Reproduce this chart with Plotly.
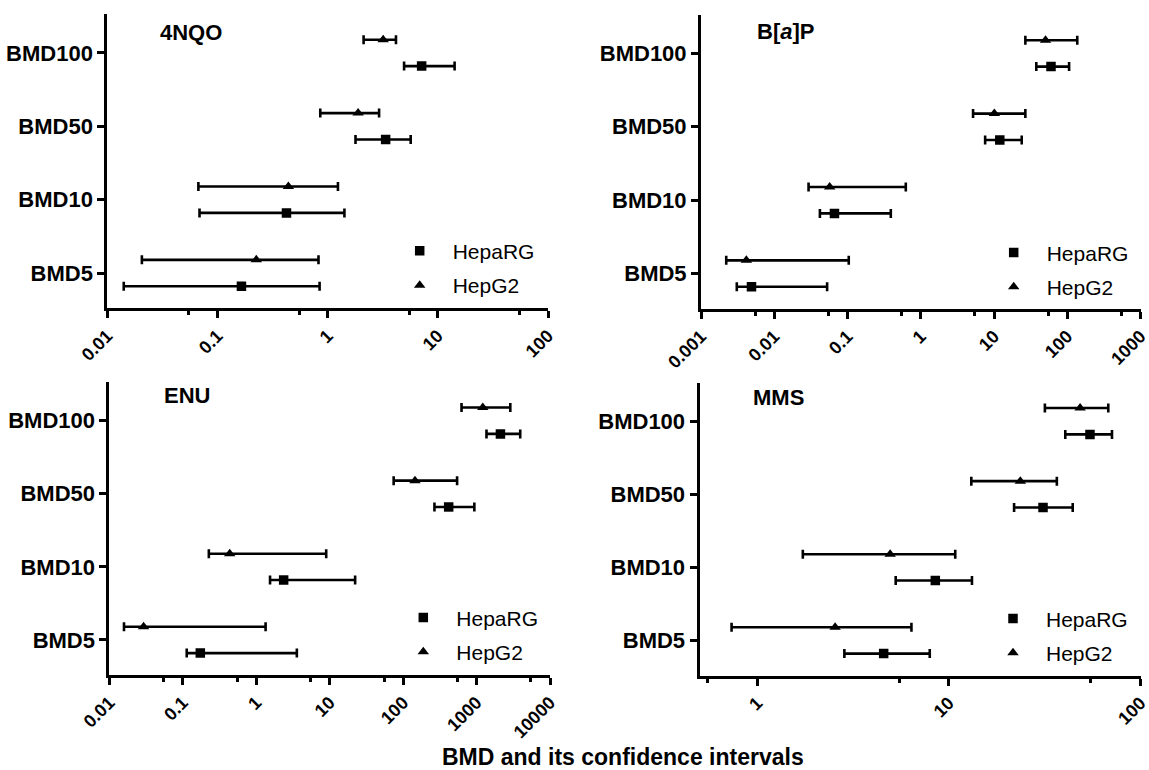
import plotly.graph_objects as go
import numpy as np

categories = ["BMD5", "BMD10", "BMD50", "BMD100"]
cells = ["HepaRG", "HepG2"]

# 4NQO
nqo_rg_c = [0.165, 0.423, 3.36, 7.13]
nqo_rg_lo = [0.0141, 0.0687, 1.79, 4.94]
nqo_rg_hi = [0.845, 1.42, 5.67, 14.2]
nqo_g2_c = [0.225, 0.44, 1.89, 3.19]
nqo_g2_lo = [0.0206, 0.0671, 0.857, 2.12]
nqo_g2_hi = [0.826, 1.24, 2.93, 4.17]

# B[a]P
bap_rg_c = [0.00489, 0.0664, 12.0, 60.0]
bap_rg_lo = [0.00308, 0.042, 7.57, 37.8]
bap_rg_hi = [0.0527, 0.39, 23.9, 106]
bap_g2_c = [0.00416, 0.0571, 10.1, 50.5]
bap_g2_lo = [0.00221, 0.0294, 5.18, 26.8]
bap_g2_hi = [0.104, 0.625, 26.8, 137]

# ENU
enu_rg_c = [0.173, 2.36, 417, 2113]
enu_rg_lo = [0.113, 1.54, 267, 1365]
enu_rg_hi = [3.57, 22.2, 933, 3930]
enu_g2_c = [0.0292, 0.435, 145, 1216]
enu_g2_lo = [0.0158, 0.226, 74.3, 624]
enu_g2_hi = [1.34, 8.96, 543, 2880]

# MMS
mms_rg_c = [4.57, 8.5, 31.0, 54.5]
mms_rg_lo = [2.85, 5.28, 21.9, 40.5]
mms_rg_hi = [7.95, 13.2, 44.3, 71.0]
mms_g2_c = [2.55, 4.94, 23.6, 48.4]
mms_g2_lo = [0.735, 1.73, 13.1, 31.7]
mms_g2_hi = [6.38, 10.8, 36.6, 67.9]

titles = ["4NQO", "B[<i>a</i>]P", "ENU", "MMS"]
x_ticks = [
    ["0.01", "0.1", "1", "10", "100"],
    ["0.001", "0.01", "0.1", "1", "10", "100", "1000"],
    ["0.01", "0.1", "1", "10", "100", "1000", "10000"],
    ["1", "10", "100"],
]
x_minor = [
    [0.055, 0.55, 5.5, 55],
    [0.0055, 0.055, 0.55, 5.5, 55, 550],
    [0.055, 0.55, 5.5, 55, 550, 5500],
    [0.55, 5.5, 55],
]
x_range_log = [[-2, 2], [-3, 3], [-2, 4], [np.log10(0.5), 2]]
axis_title = "BMD and its confidence intervals"

panels = [
    (nqo_rg_c, nqo_rg_lo, nqo_rg_hi, nqo_g2_c, nqo_g2_lo, nqo_g2_hi),
    (bap_rg_c, bap_rg_lo, bap_rg_hi, bap_g2_c, bap_g2_lo, bap_g2_hi),
    (enu_rg_c, enu_rg_lo, enu_rg_hi, enu_g2_c, enu_g2_lo, enu_g2_hi),
    (mms_rg_c, mms_rg_lo, mms_rg_hi, mms_g2_c, mms_g2_lo, mms_g2_hi),
]

W, H = 1149, 770
# pixel layout of plot areas: (left, right, top, bottom)
px_dom = [
    (107.3, 548.0, 14.0, 308.3),
    (701.0, 1140.5, 14.5, 308.8),
    (109.4, 550.0, 382.0, 675.0),
    (699.5, 1140.5, 382.5, 675.5),
]
title_pos = [(158.3, 32.5), (754.7, 31.5), (161.7, 395.5), (751.0, 397.5)]
legend_pos = [(386.7, 230.7), (980.7, 232.3), (390.3, 597.3), (980.0, 598.3)]

FONT = "Liberation Sans, Arial, sans-serif"
offset = 0.18
marker_syms = ["square", "triangle-up"]
marker_sizes = [9.5, 10]

fig = go.Figure()
ypos = np.arange(len(categories))
for i, p in enumerate(panels):
    xa = "x" if i == 0 else f"x{i+1}"
    ya = "y" if i == 0 else f"y{i+1}"
    lg = "legend" if i == 0 else f"legend{i+1}"
    series = [(p[0], p[1], p[2], -offset), (p[3], p[4], p[5], offset)]
    for j, (c, lo, hi, off) in enumerate(series):
        c = np.array(c); lo = np.array(lo); hi = np.array(hi)
        fig.add_trace(go.Scatter(
            x=c, y=ypos + off, mode="markers", name=cells[j],
            xaxis=xa, yaxis=ya, legend=lg, legendgroup=f"{i}{j}",
            marker=dict(symbol=marker_syms[j], size=marker_sizes[j], color="black"),
            error_x=dict(type="data", symmetric=False, array=hi - c, arrayminus=c - lo,
                         color="black", thickness=2.6, width=4.5),
        ))

layout = dict(
    width=W, height=H, margin=dict(l=0, r=0, t=0, b=0, autoexpand=False),
    paper_bgcolor="white", plot_bgcolor="white", showlegend=True,
    font=dict(family=FONT, color="black"),
)
annotations = []
for i in range(4):
    l, r, t, b = px_dom[i]
    xk = "xaxis" if i == 0 else f"xaxis{i+1}"
    yk = "yaxis" if i == 0 else f"yaxis{i+1}"
    anchor_x = "y" if i == 0 else f"y{i+1}"
    anchor_y = "x" if i == 0 else f"x{i+1}"
    tv = [float(s) for s in x_ticks[i]]
    layout[xk] = dict(
        type="log", range=x_range_log[i], domain=[l / W, r / W], anchor=anchor_x,
        automargin=False, ticklabeloverflow="allow",
        tickmode="array", tickvals=tv, ticktext=x_ticks[i], tickangle=-45,
        showline=True, linecolor="black", linewidth=3, ticks="outside",
        ticklen=7, tickwidth=2.5, tickcolor="black", showgrid=False, zeroline=False,
        tickfont=dict(family=FONT, size=18, weight="bold", color="black"),
        minor=dict(tickmode="array", tickvals=x_minor[i], ticks="outside",
                   ticklen=4, tickwidth=2.5, tickcolor="black", showgrid=False),
    )
    layout[yk] = dict(
        range=[-0.48, 3.53], domain=[(H - b) / H, (H - t) / H], anchor=anchor_y,
        automargin=False, ticklabeloverflow="allow",
        tickmode="array", tickvals=list(ypos), ticktext=categories,
        showline=True, linecolor="black", linewidth=3, ticks="outside",
        ticklen=7, tickwidth=2.5, tickcolor="black", showgrid=False, zeroline=False,
        tickfont=dict(family=FONT, size=22, weight="bold", color="black"),
    )
    lgk = "legend" if i == 0 else f"legend{i+1}"
    lx, ly = legend_pos[i]
    layout[lgk] = dict(
        x=lx / W, y=(H - ly) / H, xanchor="left", yanchor="top",
        xref="paper", yref="paper", bgcolor="rgba(0,0,0,0)",
        font=dict(family=FONT, size=21, color="black"),
        itemwidth=56, traceorder="grouped", tracegroupgap=4,
    )
    tx, ty = title_pos[i]
    annotations.append(dict(
        text=f"<b>{titles[i]}</b>", x=tx / W, y=(H - ty) / H, xref="paper", yref="paper",
        xanchor="left", yanchor="middle", showarrow=False,
        font=dict(family=FONT, size=22, color="black"),
    ))
annotations.append(dict(
    text=f"<b>{axis_title}</b>", x=622.5 / W, y=(H - 757) / H, xref="paper", yref="paper",
    xanchor="center", yanchor="middle", showarrow=False, height=24,
    font=dict(family=FONT, size=23, color="black"),
))
layout["annotations"] = annotations
fig.update_layout(**layout)
fig.write_html("out.html")
